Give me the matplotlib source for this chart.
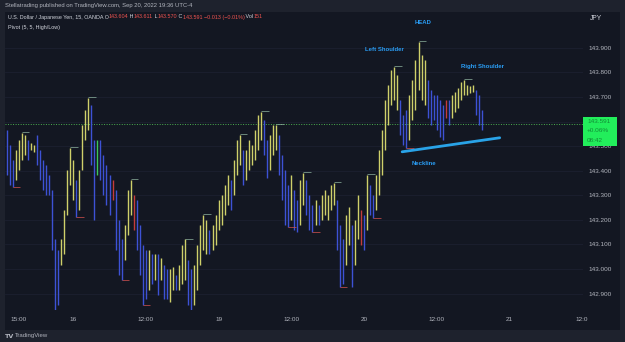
import numpy as np
import matplotlib
matplotlib.use("Agg")
import matplotlib.pyplot as plt
from matplotlib.patches import Rectangle

# USD/JPY, 30 min bars (Sep 15 ~13:00 -> Sep 20 ~20:00)
bar_high = [143.567, 143.506, 143.445, 143.485, 143.526, 143.554, 143.546, 143.526, 143.514, 143.506,
            143.546, 143.485, 143.445, 143.424, 143.384, 143.323, 143.120, 143.079, 143.120, 143.241,
            143.404, 143.493, 143.445, 143.363, 143.404, 143.587, 143.648, 143.697, 143.668, 143.526,
            143.526, 143.526, 143.465, 143.424, 143.384, 143.363, 143.323, 143.201, 143.120, 143.180,
            143.323, 143.363, 143.302, 143.282, 143.180, 143.099, 143.079, 143.079, 143.059, 143.059,
            143.059, 143.046, 143.018, 142.998, 142.998, 143.006, 142.977, 143.018, 143.099, 143.120,
            143.038, 142.998, 143.018, 143.099, 143.180, 143.221, 143.201, 143.160, 143.180, 143.221,
            143.282, 143.302, 143.343, 143.384, 143.363, 143.445, 143.526, 143.546, 143.485, 143.485,
            143.526, 143.506, 143.567, 143.628, 143.640, 143.607, 143.526, 143.546, 143.587, 143.587,
            143.546, 143.465, 143.404, 143.343, 143.384, 143.323, 143.282, 143.363, 143.392, 143.363,
            143.302, 143.262, 143.282, 143.262, 143.302, 143.323, 143.302, 143.343, 143.351, 143.282,
            143.180, 143.120, 143.221, 143.254, 143.180, 143.201, 143.302, 143.241, 143.221, 143.384,
            143.343, 143.302, 143.384, 143.485, 143.567, 143.689, 143.750, 143.811, 143.823, 143.790,
            143.689, 143.628, 143.648, 143.709, 143.770, 143.851, 143.924, 143.872, 143.851, 143.770,
            143.729, 143.709, 143.709, 143.689, 143.668, 143.689, 143.689, 143.709, 143.721, 143.737,
            143.762, 143.770, 143.750, 143.746, 143.750, 143.729, 143.709, 143.648]
bar_low = [143.384, 143.343, 143.335, 143.363, 143.404, 143.445, 143.465, 143.445, 143.485, 143.478,
           143.424, 143.363, 143.323, 143.302, 143.302, 143.079, 142.835, 142.855, 143.018, 143.059,
           143.221, 143.343, 143.282, 143.213, 143.241, 143.404, 143.526, 143.567, 143.424, 143.201,
           143.384, 143.363, 143.302, 143.262, 143.221, 143.282, 143.079, 142.977, 142.957, 143.038,
           143.140, 143.221, 143.160, 143.079, 142.977, 142.855, 142.876, 142.916, 142.937, 142.957,
           142.896, 142.957, 142.876, 142.876, 142.867, 142.916, 142.916, 142.916, 142.937, 142.957,
           142.855, 142.835, 142.855, 142.916, 143.018, 143.079, 143.059, 143.059, 143.079, 143.099,
           143.160, 143.180, 143.221, 143.262, 143.241, 143.302, 143.384, 143.424, 143.343, 143.363,
           143.404, 143.424, 143.445, 143.485, 143.526, 143.465, 143.372, 143.404, 143.465, 143.485,
           143.384, 143.282, 143.180, 143.172, 143.201, 143.160, 143.152, 143.180, 143.262, 143.221,
           143.160, 143.152, 143.180, 143.180, 143.201, 143.221, 143.201, 143.241, 143.262, 143.079,
           142.928, 142.937, 143.018, 143.099, 142.928, 143.018, 143.120, 143.099, 143.079, 143.160,
           143.221, 143.209, 143.241, 143.302, 143.384, 143.485, 143.587, 143.668, 143.689, 143.648,
           143.546, 143.506, 143.493, 143.526, 143.607, 143.648, 143.729, 143.689, 143.668, 143.615,
           143.587, 143.607, 143.567, 143.538, 143.526, 143.615, 143.587, 143.615, 143.640, 143.656,
           143.689, 143.709, 143.709, 143.717, 143.721, 143.628, 143.587, 143.567]
# u = up bar, d = down bar, r / g = highlighted bars (10 bars per chunk)
bar_kind = "".join(["ddduuuuduu", "dddddddduu", "uuuduuuudd", "gddddrdddu", "uurddddudu",
                    "dudduuduuu", "dduuuuuduu", "uuuuduuudu", "uuuuudduuu", "ddddudduud",
                    "dduduuuuud", "dduuduurdu", "dduuuuuuuu", "ddduuuuuud", "dddddrduuu",
                    "uuuuuddd"])

pivot_high = [5, 21, 27, 41, 59, 65, 77, 84, 89, 98, 108, 119, 128, 136, 151]
pivot_low = [2, 23, 38, 45, 61, 93, 101, 110, 121, 132]

last_price = 143.591
price_change = "+0.06%"
bar_countdown = "08:42"

tick_pos = [4, 22, 46, 70, 94, 118, 142, 166, 190]
tick_labels = ["15:00", "16", "12:00", "19", "12:00", "20", "12:00", "21", "12:0"]
price_ticks = [142.9, 143.0, 143.1, 143.2, 143.3, 143.4, 143.5, 143.6, 143.7, 143.8, 143.9]

# head and shoulders drawing
neck_x = [130.6, 162.8]
neck_y = [143.477, 143.534]
pattern_labels = [("HEAD", 137.5, 144.002), ("Left Shoulder", 124.7, 143.892),
                  ("Right Shoulder", 157.2, 143.823), ("Neckline", 137.8, 143.429)]

W, H = 625, 342
BG_OUT = "#1e222d"
BG = "#131722"
TXT = "#b2b5be"
kind_color = {"u": "#cfd06a", "d": "#3d52d5", "r": "#c43c3c", "g": "#3cc65a"}


def fx(px):
    return px / W


def fy(py):
    return 1 - py / H


fig = plt.figure(figsize=(W / 100, H / 100), dpi=100, facecolor=BG_OUT)
fig.add_artist(Rectangle((fx(5), fy(330)), fx(615), (330 - 12) / H, transform=fig.transFigure,
                         facecolor=BG, edgecolor="none", zorder=-5))

ax = fig.add_axes([fx(5), fy(310), fx(578), (310 - 12) / H])
ax.set_facecolor("none")
ax.set_xlim(-0.5, 190.3)
ax.set_ylim(142.833, 144.046)

for p in price_ticks:
    ax.axhline(p, color="#1c2030", lw=0.6, zorder=0)

idx = np.arange(len(bar_high))
colors = [kind_color[k] for k in bar_kind]
ax.vlines(idx, bar_low, bar_high, colors=colors, lw=1.0, zorder=2)

# pivot markers
for i in pivot_high:
    ax.hlines(bar_high[i] + 0.002, i, i + 2.5, color="#8fb5a0", lw=0.5, zorder=3)
for i in pivot_low:
    ax.hlines(bar_low[i] - 0.002, i, i + 2.5, color="#d9534f", lw=0.5, zorder=3)

ax.axhline(last_price, color="#4caf50", lw=0.7, ls=(0, (1, 1.6)), zorder=1)

ax.plot(neck_x, neck_y, color="#29a3e8", lw=2.0, solid_capstyle="round", zorder=4)
for s, x, y in pattern_labels:
    ax.text(x, y, s, color="#2a9df4", fontsize=4.3, ha="center", va="center",
            family="Liberation Sans", fontweight="bold", zorder=5)

for sp in ax.spines.values():
    sp.set_visible(False)
ax.yaxis.tick_right()
ax.set_yticks(price_ticks)
# the 143.600 label sits under the last price tag
ax.set_yticklabels(["" if abs(p - 143.6) < 1e-6 else "%.3f" % p for p in price_ticks])
ax.set_xticks(tick_pos)
ax.set_xticklabels(tick_labels)
ax.tick_params(axis="y", length=0, pad=4, labelsize=4.6, labelcolor=TXT)
ax.tick_params(axis="x", length=0, pad=5, labelsize=4.6, labelcolor=TXT)
for lab in ax.get_xticklabels() + ax.get_yticklabels():
    lab.set_family("Liberation Sans")

# last price tag
fig.add_artist(Rectangle((fx(583), fy(146)), fx(34), 29 / H, transform=fig.transFigure,
                         facecolor="#22ee5b", edgecolor="none", zorder=5))
for s, py in [("%.3f" % last_price, 122), (price_change, 131), (bar_countdown, 140)]:
    fig.text(fx(587), fy(py), s, color="#128a36", fontsize=4.6, ha="left", va="center",
             family="Liberation Sans", zorder=6)

fig.text(fx(590), fy(18), "JPY", color="#d1d4dc", fontsize=4.8, va="center", family="Liberation Sans")

# header
fig.text(fx(5), fy(6), "Stellatrading published on TradingView.com, Sep 20, 2022 19:36 UTC-4",
         color=TXT, fontsize=4.2, va="center", family="Liberation Sans")

parts = [("U.S. Dollar / Japanese Yen, 15, OANDA O", "#d1d4dc"), ("143.604", "#ef5350"),
         (" H", "#d1d4dc"), ("143.611", "#ef5350"), (" L", "#d1d4dc"), ("143.570", "#ef5350"),
         (" C", "#d1d4dc"), ("143.591 \u22120.013 (\u22120.01%)", "#ef5350"),
         (" Vol", "#d1d4dc"), ("151", "#ef5350")]
t = fig.text(fx(8), fy(17), parts[0][0], color=parts[0][1], fontsize=3.9, va="center",
             family="Liberation Sans")
for s, c in parts[1:]:
    t = ax.annotate(s, xy=(1, 0), xycoords=t, va="bottom", ha="left", color=c, fontsize=3.9,
                    family="Liberation Sans", annotation_clip=False)
fig.text(fx(8), fy(27), "Pivot (5, 5, High/Low)", color="#d1d4dc", fontsize=3.9, va="center",
         family="Liberation Sans")

# footer
fig.text(fx(5), fy(336), "TV", color=TXT, fontsize=4.6, fontweight="bold", va="center")
fig.text(fx(15), fy(336), "TradingView", color=TXT, fontsize=4.3, va="center", family="Liberation Sans")

fig.savefig("out.png", dpi=100, facecolor=BG_OUT)
